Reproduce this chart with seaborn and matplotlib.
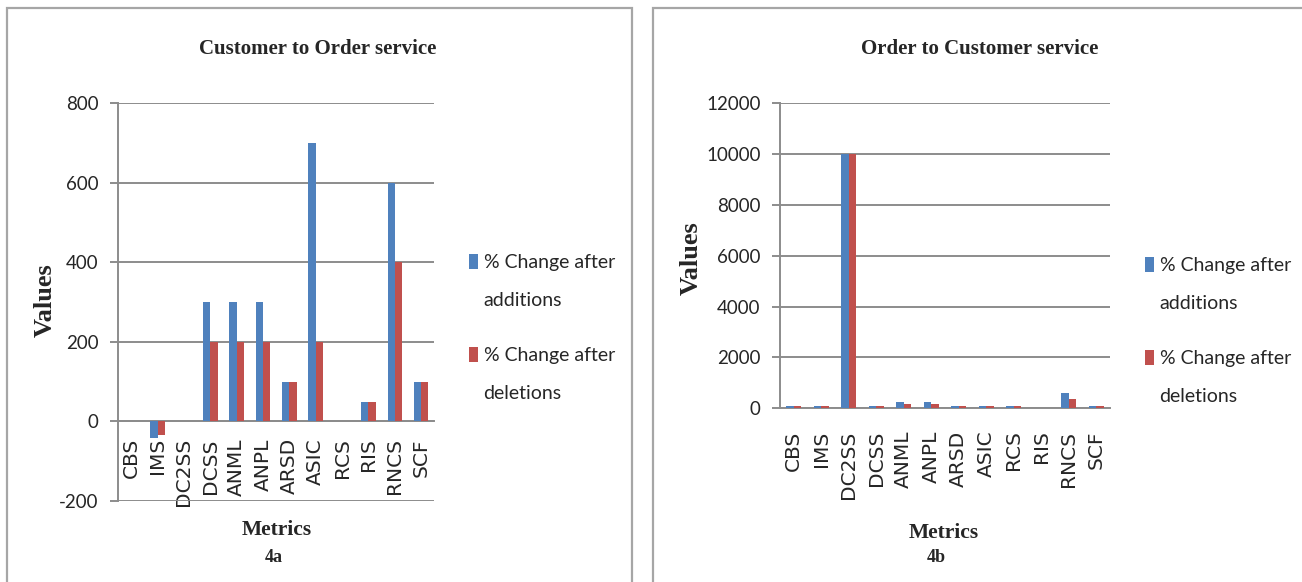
import matplotlib
matplotlib.use("Agg")
import matplotlib.pyplot as plt
from matplotlib.patches import Rectangle, Patch
from matplotlib.legend_handler import HandlerBase
import pandas as pd
import seaborn as sns

# ---- data -------------------------------------------------------------
metrics = ["CBS", "IMS", "DC2SS", "DCSS", "ANML", "ANPL",
           "ARSD", "ASIC", "RCS", "RIS", "RNCS", "SCF"]
series_names = ["% Change after\nadditions", "% Change after\ndeletions"]

c2o_additions = [0, -42, 0, 300, 300, 300, 100, 700, 0, 50, 600, 100]
c2o_deletions = [0, -35, 0, 200, 200, 200, 100, 200, 0, 50, 400, 100]

o2c_additions = [100, 100, 10000, 100, 260, 260, 100, 100, 100, 0, 600, 100]
o2c_deletions = [100, 100, 10000, 100, 170, 170, 100, 100, 100, 0, 350, 100]

c2o_ticks = [-200, 0, 200, 400, 600, 800]
o2c_ticks = [0, 2000, 4000, 6000, 8000, 10000, 12000]

panel_titles = ["Customer to Order service", "Order to Customer service"]
panel_tags = ["4a", "4b"]

# ---- style ------------------------------------------------------------
sns.set_style("white")
plt.rcParams["font.family"] = ["Lato", "DejaVu Sans"]
plt.rcParams["axes.unicode_minus"] = False
SERIF = ["Liberation Serif", "DejaVu Serif"]
BLUE, RED = "#4F81BD", "#C0504D"
GRID = "#8c8c8c"
FRAME = "#a6a6a6"

W, H = 1302, 582
fig = plt.figure(figsize=(W / 100, H / 100), dpi=100)


def px_rect(x0, y0, x1, y1):
    """Pixel box (top-left origin) -> figure fraction [l, b, w, h]."""
    return [x0 / W, 1 - y1 / H, (x1 - x0) / W, (y1 - y0) / H]


class TopSquareHandler(HandlerBase):
    """Small colour key sitting level with the first line of a wrapped label."""

    def create_artists(self, legend, orig_handle, xdescent, ydescent,
                       width, height, fontsize, trans):
        w, h = 0.46 * fontsize, 0.77 * fontsize
        lift = 0.41 * fontsize
        return [Rectangle((-xdescent, -ydescent + height - h + lift), w, h,
                          facecolor=orig_handle.get_facecolor(),
                          edgecolor="none", transform=trans)]


# grey frames around the two panels
for x0, x1 in [(7, 632), (653, 1310)]:
    fig.patches.append(Rectangle((x0 / W, -0.05), (x1 - x0) / W, 1.05 - 7.5 / H,
                                 transform=fig.transFigure, fill=False,
                                 edgecolor=FRAME, lw=1.6))


def long_frame(adds, dels):
    return pd.DataFrame({
        "Metrics": metrics * 2,
        "Values": list(adds) + list(dels),
        "Series": [series_names[0]] * len(metrics) + [series_names[1]] * len(metrics),
    })


def draw_panel(box, adds, dels, ticks, title, tag, ylab_px, xlab_px, tag_px,
               title_px, leg_px, tick_pad_x):
    x0, y0, x1, y1 = box
    ax = fig.add_axes(px_rect(*box))

    def to_axes(px, py):
        return (px - x0) / (x1 - x0), (y1 - py) / (y1 - y0)

    df = long_frame(adds, dels)
    sns.barplot(data=df, x="Metrics", y="Values", hue="Series",
                hue_order=series_names, order=metrics,
                palette=[BLUE, RED], width=0.55, gap=0, saturation=1,
                linewidth=0, edgecolor="none", ax=ax, zorder=3)
    ax.set_ylim(ticks[0], ticks[-1])
    ax.set_yticks(ticks)
    ax.set_xlim(-0.5, len(metrics) - 0.5)
    ax.grid(axis="y", color=GRID, lw=1.4, zorder=0)
    ax.set_axisbelow(True)
    for s in ["top", "right"]:
        ax.spines[s].set_visible(False)
    ax.spines["left"].set_color(GRID)
    ax.spines["left"].set_linewidth(1.4)
    ax.spines["bottom"].set_position(("data", 0))
    ax.spines["bottom"].set_color(GRID)
    ax.spines["bottom"].set_linewidth(1.4)
    ax.tick_params(axis="y", direction="out", length=6, width=1.4,
                   color=GRID, labelsize=13.5, pad=8, left=True)
    ax.set_xticks(range(len(metrics)), metrics, rotation=90,
                  fontfamily="DejaVu Sans", fontsize=14.5)
    ax.tick_params(axis="x", length=0, pad=tick_pad_x)

    # axis titles
    ax.set_ylabel("Values", fontfamily=SERIF, fontweight="bold", fontsize=19,
                  va="center")
    ax.yaxis.set_label_coords(*to_axes(*ylab_px))
    ax.set_xlabel("Metrics", fontfamily=SERIF, fontweight="bold", fontsize=15.5,
                  va="center")
    ax.xaxis.set_label_coords(*to_axes(*xlab_px))

    fig.text(title_px[0] / W, 1 - title_px[1] / H, title, ha="center",
             va="center", fontfamily=SERIF, fontweight="bold", fontsize=15)
    fig.text(tag_px[0] / W, 1 - tag_px[1] / H, tag, ha="center", va="center",
             fontfamily=SERIF, fontweight="bold", fontsize=13)

    sns.move_legend(ax, loc="upper left", bbox_to_anchor=to_axes(*leg_px),
                    frameon=False, title=None, fontsize=14,
                    handler_map={Patch: TopSquareHandler()},
                    handlelength=0.46, handleheight=2.9, handletextpad=0.3,
                    labelspacing=1.95, borderaxespad=0)
    for t in ax.get_legend().get_texts():
        t.set_linespacing(2.5)
    return ax


# left panel: plot box x 118..434, y 103 (800) .. 501 (-200)
draw_panel((118, 103.3, 434.3, 501), c2o_additions, c2o_deletions,
           c2o_ticks, panel_titles[0], panel_tags[0],
           ylab_px=(45, 300), xlab_px=(277, 530), tag_px=(274, 557),
           title_px=(318, 49), leg_px=(461, 246), tick_pad_x=12)

# right panel: plot box x 780..1110, y 103 (12000) .. 408 (0)
draw_panel((780, 103.3, 1110, 408.3), o2c_additions, o2c_deletions,
           o2c_ticks, panel_titles[1], panel_tags[1],
           ylab_px=(691, 258), xlab_px=(944, 533), tag_px=(936, 558),
           title_px=(980, 49), leg_px=(1137, 249), tick_pad_x=16)

fig.savefig("out.png", dpi=100, facecolor="white")
